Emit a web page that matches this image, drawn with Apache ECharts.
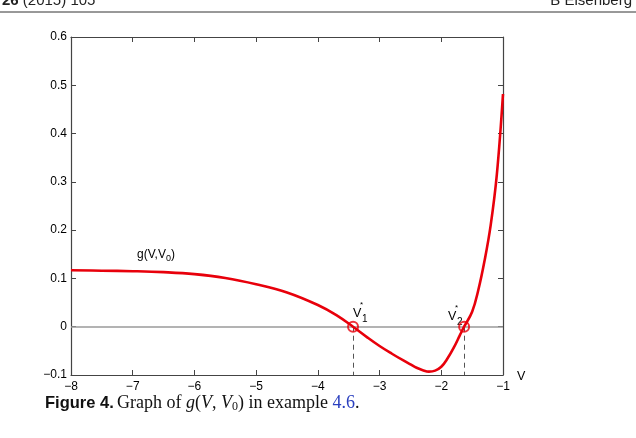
<!DOCTYPE html>
<html><head><meta charset="utf-8">
<script src="https://cdn.jsdelivr.net/npm/echarts@6/dist/echarts.min.js"></script>
<style>html,body{margin:0;padding:0;background:#fff}#c{width:636px;height:438px}</style>
</head><body><div id="c"></div>
<script>
const voltages = [-8, -7.5, -7, -6.5, -6, -5.5, -5, -4.5, -4, -3.7, -3.43, -3.2, -3.0, -2.8, -2.6, -2.5, -2.4, -2.3, -2.2, -2.1, -2.0, -1.9, -1.8, -1.7, -1.63, -1.5, -1.4, -1.3, -1.2, -1.1, -1.0];
const gValues = [0.117, 0.116, 0.115, 0.113, 0.109, 0.101, 0.088, 0.071, 0.045, 0.024, 0.0, -0.022, -0.040, -0.056, -0.071, -0.078, -0.085, -0.090, -0.093, -0.091, -0.083, -0.066, -0.044, -0.018, 0.0, 0.031, 0.076, 0.136, 0.210, 0.315, 0.482];
const roots = [-3.43, -1.63];
const rootNames = ['1', '2'];
const xTicks = [-8, -7, -6, -5, -4, -3, -2, -1];
const yTicks = [-0.1, 0, 0.1, 0.2, 0.3, 0.4, 0.5, 0.6];
const curveLabelPos = [-6.93, 0.149];

const minus = v => {
  const r = Math.round(v * 10) / 10;
  return (r < 0 ? '\u2212' : '') + String(Math.abs(r));
};
const axisColor = '#444';
const font = 'Liberation Sans, Arial, sans-serif';
const serif = 'Liberation Serif, Times New Roman, serif';

const chart = echarts.init(document.getElementById('c'));
const baseX = {
  type: 'value', min: xTicks[0], max: xTicks[xTicks.length - 1], interval: 1,
  axisLine: {show: true, onZero: false, lineStyle: {color: axisColor, width: 1.2}},
  axisTick: {show: true, inside: true, length: 5, lineStyle: {color: axisColor}},
  splitLine: {show: false}
};
const baseY = {
  type: 'value', min: yTicks[0], max: yTicks[yTicks.length - 1], interval: 0.1,
  axisLine: {show: true, onZero: false, lineStyle: {color: axisColor, width: 1.2}},
  axisTick: {show: true, inside: true, length: 5, lineStyle: {color: axisColor}},
  splitLine: {show: false}
};
chart.setOption({
  animation: false,
  grid: {left: 71, right: 133, top: 37, bottom: 63},
  xAxis: [
    Object.assign({}, baseX, {position: 'bottom',
      name: 'V', nameLocation: 'end', nameGap: 14,
      nameTextStyle: {fontFamily: font, fontSize: 12.5, color: '#000', verticalAlign: 'top', padding: [-5, 0, 0, 0]},
      axisLabel: {fontFamily: font, fontSize: 12, color: '#000', margin: 6, formatter: minus}}),
    Object.assign({}, baseX, {position: 'top', axisLabel: {show: false}})
  ],
  yAxis: [
    Object.assign({}, baseY, {position: 'left',
      axisLabel: {fontFamily: font, fontSize: 12, color: '#000', margin: 4, formatter: minus}}),
    Object.assign({}, baseY, {position: 'right', axisLabel: {show: false}})
  ],
  series: [
    {
      type: 'line', smooth: 0.4, showSymbol: false,
      data: voltages.map((v, i) => [v, gValues[i]]),
      lineStyle: {color: '#e8000b', width: 2.6}, z: 5,
      markLine: {
        silent: true, symbol: 'none', label: {show: false},
        data: [
          [{coord: [xTicks[0], 0], lineStyle: {color: '#9a9a9a', width: 1.6, type: 'solid'}}, {coord: [xTicks[xTicks.length - 1], 0]}],
          ...roots.map(r => [{coord: [r, 0], lineStyle: {color: '#555', width: 1, type: [5, 4]}}, {coord: [r, yTicks[0]]}])
        ]
      }
    },
    {
      type: 'scatter', symbol: 'circle', symbolSize: 10, z: 6,
      itemStyle: {color: 'rgba(0,0,0,0)', borderColor: '#e8000b', borderWidth: 2},
      data: roots.map(r => [r, 0])
    }
  ]
});

const px = d => chart.convertToPixel({xAxisIndex: 0, yAxisIndex: 0}, d);
const rootGraphics = [];
roots.forEach((r, i) => {
  const p = px([r, 0]);
  const x0 = i === 0 ? p[0] : p[0] - 16;
  const y0 = i === 0 ? p[1] - 20 : p[1] - 17;
  rootGraphics.push({type: 'text', x: x0, y: y0, style: {text: 'V', font: '12.5px ' + font, fill: '#000'}});
  rootGraphics.push({type: 'text', x: x0 + 7, y: y0 - 6, style: {text: '*', font: '8px ' + font, fill: '#000'}});
  rootGraphics.push({type: 'text', x: x0 + 9, y: y0 + 8, style: {text: rootNames[i], font: '10px ' + font, fill: '#000'}});
});
const lp = px(curveLabelPos);
chart.setOption({graphic: [
  {type: 'line', shape: {x1: 0, y1: 12, x2: 636, y2: 12}, style: {stroke: '#333', lineWidth: 1}},
  {type: 'text', x: 2, y: -7, style: {text: '{b|26} (2015) 105', font: '15px ' + font, fill: '#222',
    rich: {b: {fontWeight: 'bold', fontSize: 15, fontFamily: font}}}},
  {type: 'text', x: 632, y: -7, style: {text: 'B Eisenberg', align: 'right', font: '15px ' + font, fill: '#222'}},
  {type: 'text', x: 45, y: 394, style: {
    text: '{f|Figure 4.} {t|Graph of }{i|g}{t|(}{i|V}{t|, }{i|V}{sub|0}{t|) in example }{l|4.6}{t|.}',
    rich: {
      f: {fontWeight: 'bold', fontSize: 16.5, fontFamily: font, fill: '#111'},
      t: {fontSize: 18, fontFamily: serif, fill: '#111'},
      i: {fontSize: 18, fontStyle: 'italic', fontFamily: serif, fill: '#111'},
      sub: {fontSize: 12, fontFamily: serif, fill: '#111', verticalAlign: 'bottom', padding: [7, 0, 0, 0]},
      l: {fontSize: 18, fontFamily: serif, fill: '#2a3fbf'}
    }
  }},
  ...rootGraphics,
  {type: 'text', x: lp[0], y: lp[1], style: {
    text: '{a|g(V,V}{s|0}{a|)}', align: 'left', verticalAlign: 'middle',
    rich: {
      a: {fontSize: 12, fontFamily: font, fill: '#000'},
      s: {fontSize: 9, fontFamily: font, fill: '#000', verticalAlign: 'bottom', padding: [7, 0, 0, 0]}
    }
  }}
]});
</script>
</body></html>
